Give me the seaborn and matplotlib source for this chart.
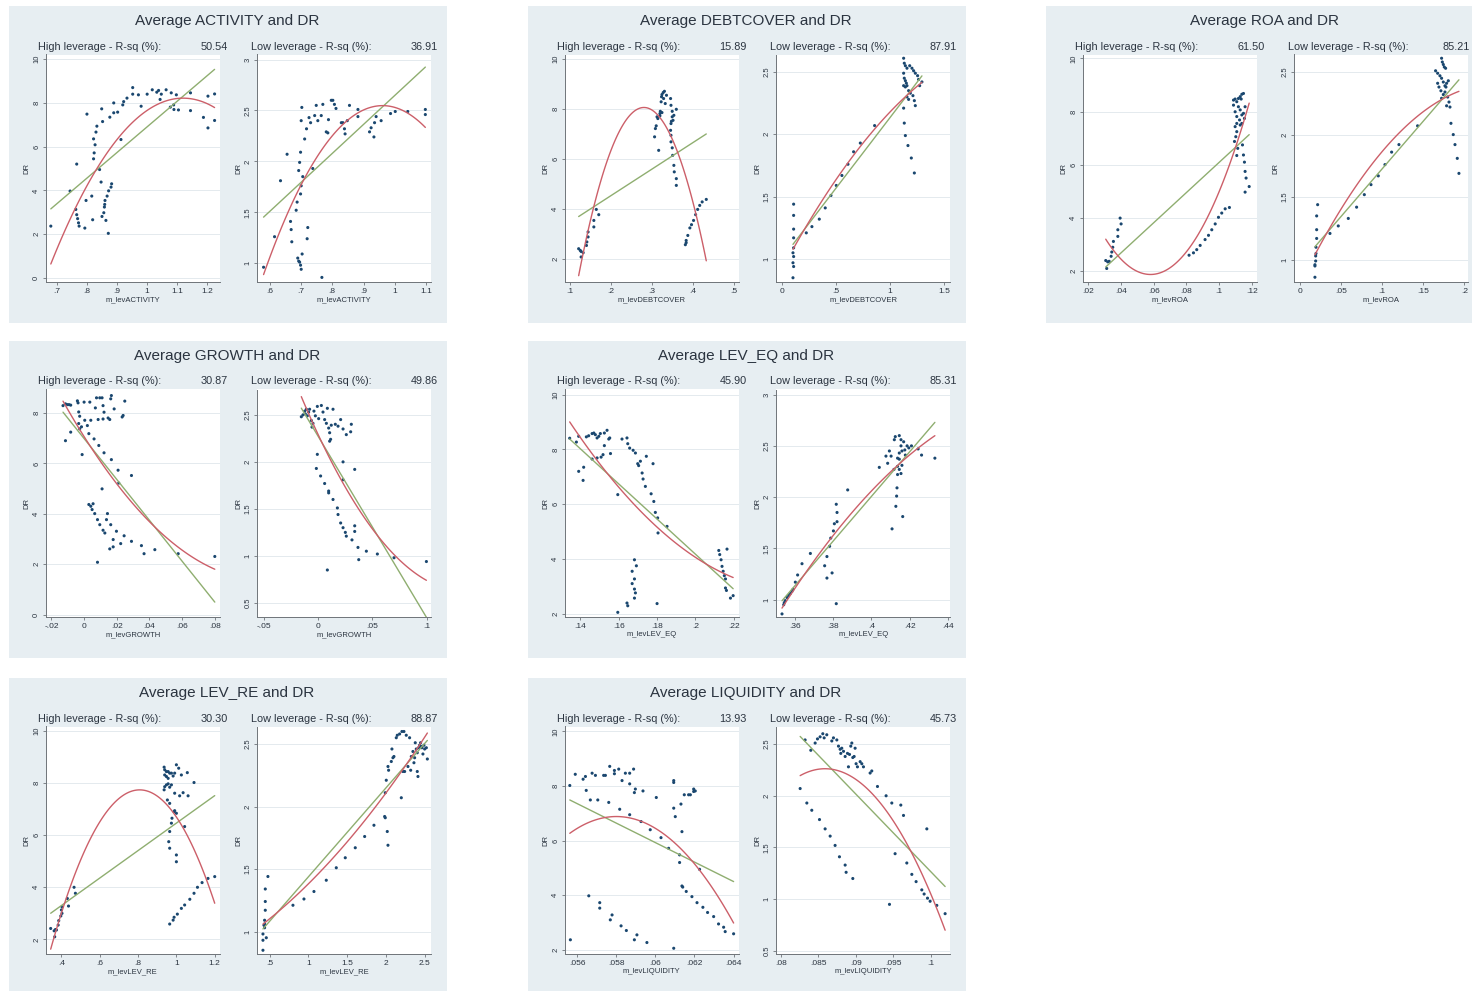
import matplotlib
matplotlib.use("Agg")
import matplotlib.pyplot as plt
import seaborn as sns
import pandas as pd
from matplotlib.patches import Rectangle

# ---------------------------------------------------------------- data
# Average ACTIVITY
activity_high_x = [0.680, 0.744, 0.766, 0.763, 0.766, 0.769, 0.772, 0.774, 0.793, 0.797, 0.816, 0.819,
                   0.800, 0.822, 0.824, 0.827, 0.822, 0.830, 0.833, 0.849, 0.852, 0.876, 0.889, 0.889,
                   0.902, 0.919, 0.922, 0.933, 0.952, 0.952, 0.971, 0.980, 1.000, 1.017, 1.032, 1.038,
                   1.043, 1.047, 1.063, 1.080, 1.097, 1.077, 1.088, 1.089, 1.104, 1.144, 1.144, 1.187,
                   1.202, 1.202, 1.224, 1.224, 0.842, 0.847, 0.850, 0.856, 0.858, 0.859, 0.860, 0.863,
                   0.867, 0.872, 0.880, 0.882, 0.871, 0.913]
activity_high_dr = [2.37, 3.97, 5.20, 3.13, 2.89, 2.71, 2.52, 2.37, 2.28, 3.54, 3.74, 2.66,
                    7.48, 5.44, 5.71, 6.08, 6.35, 6.66, 6.93, 7.72, 7.14, 7.34, 7.54, 7.99,
                    7.57, 7.90, 8.05, 8.21, 8.69, 8.39, 8.36, 7.84, 8.39, 8.59, 8.48, 8.56,
                    8.15, 8.39, 8.59, 8.45, 8.36, 7.80, 7.90, 7.69, 7.67, 8.45, 7.64, 7.33,
                    8.30, 6.85, 8.40, 7.19, 4.95, 4.38, 2.81, 2.98, 3.24, 3.36, 3.54, 2.63,
                    3.74, 3.98, 4.15, 4.30, 2.04, 6.32]
activity_low_x = [0.581, 0.616, 0.635, 0.656, 0.667, 0.669, 0.671, 0.685, 0.688, 0.690, 0.693, 0.696,
                  0.699, 0.701, 0.704, 0.699, 0.701, 0.693, 0.696, 0.699, 0.701, 0.703, 0.712, 0.718,
                  0.720, 0.722, 0.726, 0.731, 0.744, 0.749, 0.754, 0.765, 0.770, 0.781, 0.786, 0.788,
                  0.797, 0.802, 0.807, 0.812, 0.767, 0.738, 0.706, 0.829, 0.834, 0.839, 0.841, 0.848,
                  0.855, 0.882, 0.882, 0.919, 0.924, 0.933, 0.935, 0.940, 0.956, 0.986, 1.001, 1.041,
                  1.097, 1.097]
activity_low_dr = [0.96, 1.26, 1.81, 2.07, 1.41, 1.33, 1.21, 1.52, 1.60, 1.05, 1.02, 1.01,
                   0.98, 0.94, 1.09, 1.68, 1.76, 1.91, 1.99, 2.09, 2.40, 2.53, 2.22, 2.32,
                   1.24, 1.35, 2.43, 2.38, 2.45, 2.55, 2.40, 2.45, 2.56, 2.29, 2.28, 2.41,
                   2.60, 2.60, 2.56, 2.52, 0.86, 1.93, 1.85, 2.38, 2.38, 2.32, 2.27, 2.40,
                   2.55, 2.51, 2.44, 2.29, 2.33, 2.24, 2.38, 2.44, 2.40, 2.47, 2.49, 2.49,
                   2.51, 2.46]

# Average DEBTCOVER
debtcover_high_x = [0.122, 0.126, 0.128, 0.128, 0.133, 0.141, 0.142, 0.145, 0.145, 0.159, 0.159, 0.165,
                    0.171, 0.307, 0.309, 0.311, 0.313, 0.317, 0.320, 0.321, 0.323, 0.324, 0.325, 0.328,
                    0.329, 0.331, 0.333, 0.336, 0.325, 0.320, 0.315, 0.346, 0.347, 0.350, 0.350, 0.347,
                    0.348, 0.346, 0.347, 0.347, 0.350, 0.351, 0.354, 0.355, 0.360, 0.360, 0.360, 0.354,
                    0.352, 0.382, 0.384, 0.388, 0.393, 0.397, 0.402, 0.407, 0.412, 0.417, 0.423, 0.433,
                    0.384]
debtcover_high_dr = [2.40, 2.33, 2.29, 2.07, 2.24, 2.53, 2.67, 2.87, 3.07, 3.27, 3.53, 3.97,
                     3.76, 6.87, 7.20, 7.31, 7.67, 6.33, 7.80, 7.89, 8.27, 8.47, 8.56, 8.64,
                     8.40, 8.69, 8.20, 8.53, 7.84, 7.71, 7.60, 8.40, 8.13, 7.89, 7.67, 7.40,
                     7.49, 7.13, 6.93, 6.67, 6.43, 6.13, 5.73, 5.47, 5.20, 4.93, 7.97, 7.73,
                     7.53, 2.56, 2.73, 2.93, 3.23, 3.36, 3.53, 3.76, 3.97, 4.13, 4.27, 4.37,
                     2.64]
debtcover_low_x = [0.108, 0.108, 0.108, 0.108, 0.108, 0.102, 0.108, 0.102, 0.108, 0.102,
                   0.225, 0.277, 0.345, 0.400, 0.453, 0.502, 0.554, 0.610, 0.662, 0.724, 0.856,
                   1.124, 1.130, 1.140, 1.155, 1.180, 1.201, 1.216, 1.232, 1.253, 1.124, 1.130,
                   1.140, 1.149, 1.124, 1.140, 1.155, 1.170, 1.186, 1.210, 1.223, 1.232, 1.155,
                   1.170, 1.272, 1.293, 1.262, 1.124, 1.130, 1.140, 1.164, 1.195, 1.223]
debtcover_low_dr = [1.44, 1.35, 1.24, 1.17, 1.09, 1.05, 1.02, 0.97, 0.94, 0.85,
                    1.21, 1.26, 1.32, 1.41, 1.51, 1.59, 1.67, 1.76, 1.86, 1.93, 2.07,
                    2.61, 2.57, 2.55, 2.53, 2.55, 2.53, 2.51, 2.49, 2.47, 2.49, 2.45,
                    2.43, 2.41, 2.39, 2.38, 2.39, 2.35, 2.33, 2.31, 2.27, 2.23, 2.30,
                    2.28, 2.39, 2.42, 2.44, 2.21, 2.09, 1.99, 1.91, 1.81, 1.69]

# Average ROA
roa_high_x = [0.0306, 0.0318, 0.0312, 0.0327, 0.0339, 0.0343, 0.0349, 0.0353, 0.0380, 0.0380, 0.0400, 0.0394,
              0.0816, 0.0843, 0.0863, 0.0884, 0.0914, 0.0935, 0.0955, 0.0976, 0.0996, 0.1016, 0.1037, 0.1063,
              0.1088, 0.1098, 0.1108, 0.1118, 0.1129, 0.1139, 0.1149, 0.1135, 0.1088, 0.1098, 0.1108, 0.1118,
              0.1129, 0.1139, 0.1149, 0.1159, 0.1155, 0.1125, 0.1108, 0.1098, 0.1108, 0.1102, 0.1094, 0.1114,
              0.1108, 0.1149, 0.1143, 0.1155, 0.1159, 0.1165, 0.1184, 0.1159, 0.1139, 0.1129]
roa_high_dr = [2.38, 2.33, 2.08, 2.35, 2.54, 2.70, 2.88, 3.10, 3.29, 3.54, 3.76, 3.98,
               2.58, 2.67, 2.79, 2.95, 3.17, 3.33, 3.54, 3.76, 4.01, 4.17, 4.33, 4.38,
               8.43, 8.47, 8.37, 8.49, 8.56, 8.65, 8.68, 8.47, 8.24, 7.99, 7.81, 8.18,
               8.06, 7.87, 7.93, 8.18, 7.74, 7.68, 7.55, 7.43, 7.24, 7.05, 6.87, 6.61,
               6.34, 6.36, 6.74, 6.09, 5.74, 5.49, 5.17, 4.96, 7.55, 7.49]
roa_low_x = [0.0215, 0.0203, 0.0203, 0.0203, 0.0195, 0.0195, 0.0191, 0.0191, 0.0182, 0.0182, 0.0182,
             0.0365, 0.0466, 0.0588, 0.0689, 0.0783, 0.0864, 0.0953, 0.1034, 0.1115, 0.1204, 0.1431,
             0.1723, 0.1732, 0.1744, 0.1756, 0.1772, 0.1650, 0.1675, 0.1703, 0.1723, 0.1744, 0.1764,
             0.1784, 0.1805, 0.1675, 0.1691, 0.1715, 0.1744, 0.1723, 0.1764, 0.1797, 0.1813, 0.1784,
             0.1825, 0.1837, 0.1865, 0.1886, 0.1914, 0.1934, 0.1776]
roa_low_dr = [1.44, 1.35, 1.24, 1.17, 1.10, 1.05, 1.03, 0.99, 0.96, 0.95, 0.86,
              1.21, 1.27, 1.33, 1.42, 1.52, 1.60, 1.67, 1.76, 1.86, 1.92, 2.07,
              2.61, 2.58, 2.56, 2.54, 2.53, 2.51, 2.49, 2.47, 2.45, 2.42, 2.39,
              2.41, 2.43, 2.41, 2.38, 2.35, 2.32, 2.29, 2.34, 2.30, 2.26, 2.23,
              2.22, 2.09, 2.00, 1.92, 1.81, 1.69, 2.38]

# Average GROWTH
growth_high_x = [-0.0129, -0.0114, -0.0102, -0.0092, -0.0082, -0.0114, -0.0082, -0.0041, -0.0037, -0.0033,
                 -0.0027, -0.0033, -0.0027, -0.0016, -0.0012, 0.0000, 0.0004, 0.0020, 0.0029, 0.0035,
                 0.0041, 0.0061, 0.0069, 0.0076, 0.0086, 0.0090, 0.0096, 0.0110, 0.0116, 0.0116,
                 0.0122, 0.0122, 0.0147, 0.0157, 0.0163, 0.0167, 0.0167, 0.0184, 0.0208, 0.0212,
                 0.0233, 0.0239, 0.0249, 0.0290, 0.0110, 0.0029, 0.0041, 0.0055, 0.0049, 0.0065,
                 0.0082, 0.0096, 0.0116, 0.0127, 0.0143, 0.0137, 0.0163, 0.0198, 0.0245, 0.0178,
                 0.0157, 0.0178, 0.0224, 0.0290, 0.0351, 0.0367, 0.0433, 0.0576, 0.0800, 0.0082]
growth_high_dr = [8.29, 8.36, 8.33, 8.33, 8.31, 6.90, 7.24, 8.48, 8.40, 8.04,
                  7.87, 7.58, 7.37, 7.45, 6.35, 8.43, 7.71, 7.50, 7.18, 8.43,
                  7.71, 6.97, 8.20, 8.60, 7.74, 6.71, 8.60, 8.60, 8.29, 7.76,
                  8.03, 6.42, 7.80, 7.74, 8.56, 8.69, 6.15, 8.16, 5.73, 5.22,
                  7.84, 7.90, 8.47, 5.52, 4.99, 4.37, 4.30, 4.40, 4.17, 4.01,
                  3.77, 3.57, 3.35, 3.24, 4.01, 3.77, 3.57, 3.31, 3.13, 2.98,
                  2.61, 2.69, 2.82, 2.91, 2.74, 2.42, 2.58, 2.42, 2.31, 2.08]
growth_low_x = [-0.0153, -0.0138, -0.0122, -0.0107, -0.0116, -0.0098, -0.0086, -0.0077, -0.0061, -0.0046,
                -0.0055, -0.0037, -0.0024, -0.0006, 0.0006, 0.0031, 0.0046, 0.0061, 0.0077, 0.0086,
                0.0098, 0.0107, 0.0122, 0.0138, 0.0159, 0.0184, 0.0208, 0.0230, 0.0260, 0.0300,
                0.0306, 0.0116, 0.0107, -0.0006, -0.0015, 0.0024, 0.0061, 0.0098, 0.0098, 0.0138,
                0.0178, 0.0184, 0.0208, 0.0230, 0.0251, 0.0260, 0.0312, 0.0367, 0.0374, 0.0444,
                0.0545, 0.0698, 0.0995, 0.0086, 0.0337, 0.0230, 0.0230, 0.0337, 0.0337]
growth_low_dr = [2.48, 2.50, 2.54, 2.56, 2.51, 2.49, 2.53, 2.56, 2.44, 2.41,
                 2.37, 2.54, 2.49, 2.59, 2.46, 2.60, 2.53, 2.45, 2.41, 2.57,
                 2.36, 2.31, 2.39, 2.56, 2.40, 2.38, 2.45, 2.35, 2.29, 2.32,
                 2.40, 2.24, 2.22, 2.08, 1.93, 1.85, 1.77, 1.69, 1.67, 1.60,
                 1.51, 1.44, 1.35, 1.30, 1.25, 1.21, 1.17, 1.09, 0.96, 1.05,
                 1.02, 0.98, 0.94, 0.85, 1.92, 1.81, 2.00, 1.32, 1.26]

# Average LEV_EQ
lev_eq_high_x = [0.1344, 0.1379, 0.1391, 0.1431, 0.1443, 0.1461, 0.1470, 0.1478, 0.1487, 0.1496,
                 0.1504, 0.1525, 0.1539, 0.1525, 0.1518, 0.1508, 0.1487, 0.1461, 0.1548, 0.1557,
                 0.1553, 0.1391, 0.1417, 0.1414, 0.1617, 0.1643, 0.1595, 0.1647, 0.1657, 0.1675,
                 0.1687, 0.1699, 0.1704, 0.1713, 0.1722, 0.1727, 0.1739, 0.1744, 0.1769, 0.1779,
                 0.1783, 0.1791, 0.1803, 0.1805, 0.1852, 0.1682, 0.1692, 0.1670, 0.1682, 0.1670,
                 0.1682, 0.1687, 0.1682, 0.1643, 0.1647, 0.1595, 0.1800, 0.2122, 0.2127, 0.2165,
                 0.2134, 0.2139, 0.2145, 0.2151, 0.2157, 0.2157, 0.2162, 0.2183, 0.2197]
lev_eq_high_dr = [8.41, 8.27, 8.48, 8.46, 8.50, 8.58, 8.60, 8.54, 8.42, 8.48,
                  8.58, 8.60, 8.70, 8.14, 7.81, 7.72, 7.69, 7.65, 8.38, 7.85,
                  8.42, 7.20, 7.35, 6.87, 8.38, 8.42, 6.35, 8.21, 8.05, 7.97,
                  7.87, 7.48, 7.41, 7.57, 7.14, 6.92, 6.65, 7.75, 6.38, 7.48,
                  6.10, 5.70, 5.50, 4.95, 5.19, 3.97, 3.75, 3.55, 3.27, 3.10,
                  2.90, 2.76, 2.57, 2.39, 2.29, 2.05, 2.37, 4.31, 4.16, 4.36,
                  3.97, 3.73, 3.55, 3.39, 3.27, 2.94, 2.85, 2.57, 2.66]
lev_eq_low_x = [0.3530, 0.3539, 0.3542, 0.3547, 0.3556, 0.3565, 0.3574, 0.3582, 0.3588, 0.3600,
                0.3612, 0.3635, 0.3679, 0.3754, 0.3766, 0.3766, 0.3793, 0.3780, 0.3786, 0.3800,
                0.3805, 0.3815, 0.3819, 0.3819, 0.3815, 0.3875, 0.4041, 0.4076, 0.4085, 0.4094,
                0.4103, 0.4108, 0.4120, 0.4125, 0.4128, 0.4132, 0.4134, 0.4137, 0.4137, 0.4146,
                0.4146, 0.4137, 0.4146, 0.4146, 0.4155, 0.4155, 0.4160, 0.4164, 0.4169, 0.4175,
                0.4178, 0.4187, 0.4196, 0.4155, 0.4160, 0.4210, 0.4245, 0.4263, 0.4333, 0.4118]
lev_eq_low_dr = [0.86, 0.95, 0.97, 0.99, 1.02, 1.04, 1.06, 1.08, 1.10, 1.17,
                 1.24, 1.35, 1.45, 1.33, 1.42, 1.21, 1.26, 1.52, 1.60, 1.67,
                 1.74, 1.93, 1.85, 1.76, 0.96, 2.07, 2.29, 2.40, 2.33, 2.45,
                 2.40, 1.69, 2.56, 2.59, 1.91, 2.01, 2.09, 2.22, 2.30, 2.37,
                 2.27, 2.38, 2.43, 2.60, 2.56, 2.50, 2.45, 1.81, 2.54, 2.46,
                 2.41, 2.50, 2.48, 2.23, 2.31, 2.50, 2.47, 2.41, 2.38, 2.27]

# Average LEV_RE
lev_re_high_x = [0.344, 0.362, 0.369, 0.365, 0.374, 0.383, 0.386, 0.397, 0.400, 0.403, 0.403, 0.431,
                 0.437, 0.466, 0.473, 0.936, 0.939, 0.948, 0.957, 0.965, 0.939, 0.948, 0.957, 0.974,
                 0.983, 1.000, 1.012, 0.991, 1.057, 1.026, 0.936, 0.939, 0.948, 0.957, 0.965, 0.974,
                 0.953, 0.965, 0.988, 0.991, 1.000, 0.977, 0.974, 0.965, 0.960, 0.965, 1.000, 1.000,
                 1.043, 1.017, 1.035, 1.061, 1.092, 0.991, 0.965, 0.983, 0.988, 1.005, 1.026, 1.043,
                 1.070, 1.092, 1.110, 1.134, 1.165, 1.200]
lev_re_high_dr = [2.42, 2.33, 2.38, 2.10, 2.36, 2.55, 2.72, 2.90, 3.13, 3.00, 3.25, 3.57,
                  3.28, 4.00, 3.77, 8.61, 8.51, 8.44, 8.44, 8.38, 8.31, 8.25, 8.18, 8.38,
                  8.27, 8.70, 8.57, 8.38, 8.40, 8.31, 7.74, 7.86, 7.93, 7.97, 7.84, 7.93,
                  7.35, 7.22, 6.90, 6.94, 6.84, 6.65, 6.46, 6.14, 5.75, 5.50, 5.24, 4.98,
                  6.33, 7.51, 7.63, 7.51, 8.02, 7.61, 2.59, 2.74, 2.85, 2.97, 3.19, 3.32,
                  3.54, 3.77, 4.00, 4.18, 4.34, 4.41]
lev_re_low_x = [0.478, 0.444, 0.444, 0.444, 0.435, 0.435, 0.435, 0.414, 0.457, 0.414, 0.414, 0.427,
                0.801, 0.943, 1.072, 1.231, 1.360, 1.476, 1.605, 1.726, 1.846, 1.984, 1.992, 2.018,
                2.027, 1.992, 2.005, 2.027, 2.035, 2.070, 2.078, 2.091, 2.104, 2.134, 2.147, 2.177,
                2.207, 2.233, 2.263, 2.306, 2.199, 2.220, 2.242, 2.285, 2.320, 2.328, 2.349, 2.362,
                2.371, 2.392, 2.405, 2.414, 2.422, 2.435, 2.448, 2.457, 2.465, 2.478, 2.491, 2.500,
                2.522, 2.535, 2.379, 2.405]
lev_re_low_dr = [1.44, 1.34, 1.24, 1.17, 1.09, 1.06, 1.03, 0.98, 0.95, 0.93, 0.85, 1.05,
                 1.21, 1.26, 1.32, 1.41, 1.51, 1.59, 1.67, 1.76, 1.85, 1.92, 1.91, 1.80,
                 1.69, 2.11, 2.21, 2.32, 2.29, 2.36, 2.46, 2.39, 2.40, 2.55, 2.57, 2.58,
                 2.60, 2.60, 2.57, 2.55, 2.07, 2.28, 2.28, 2.32, 2.29, 2.40, 2.44, 2.35,
                 2.39, 2.46, 2.43, 2.24, 2.47, 2.49, 2.51, 2.48, 2.47, 2.42, 2.49, 2.46,
                 2.47, 2.38, 2.51, 2.28]

# Average LIQUIDITY
liquidity_high_x = [0.05563, 0.05566, 0.05591, 0.05631, 0.05643, 0.05647, 0.05668, 0.05677, 0.05694, 0.05660,
                    0.05706, 0.05716, 0.05716, 0.05736, 0.05745, 0.05762, 0.05767, 0.05770, 0.05779, 0.05791,
                    0.05791, 0.05813, 0.05818, 0.05825, 0.05830, 0.05847, 0.05852, 0.05869, 0.05869, 0.05869,
                    0.05889, 0.05893, 0.05898, 0.05893, 0.05906, 0.05927, 0.05937, 0.05957, 0.05974, 0.06005,
                    0.06029, 0.06068, 0.06094, 0.06094, 0.06094, 0.06102, 0.06094, 0.06124, 0.06124, 0.06131,
                    0.06136, 0.06136, 0.06140, 0.06148, 0.06158, 0.06170, 0.06179, 0.06187, 0.06196, 0.06196,
                    0.06204, 0.06213, 0.06226, 0.06243, 0.06267, 0.06298, 0.06323, 0.06349, 0.06357, 0.06400]
liquidity_high_dr = [8.02, 2.37, 8.43, 8.25, 8.35, 7.84, 7.49, 8.47, 8.39, 3.98,
                     7.49, 3.73, 3.53, 8.39, 8.39, 7.40, 8.72, 3.10, 3.28, 8.57,
                     8.45, 8.62, 7.15, 2.88, 8.20, 8.47, 2.71, 8.47, 8.08, 6.95,
                     8.62, 7.76, 7.89, 2.37, 2.55, 6.70, 7.82, 2.27, 6.40, 7.58,
                     6.11, 5.72, 8.20, 8.13, 7.19, 6.88, 2.06, 5.48, 5.20, 7.34,
                     6.33, 4.34, 4.30, 7.68, 4.14, 7.68, 7.68, 3.95, 7.80, 7.89,
                     7.82, 3.73, 4.95, 3.56, 3.37, 3.22, 2.95, 2.83, 2.67, 2.59]
liquidity_low_x = [0.08258, 0.08324, 0.08347, 0.08400, 0.08413, 0.08458, 0.08489, 0.08516, 0.08524, 0.08560,
                   0.08578, 0.08591, 0.08613, 0.08658, 0.08680, 0.08702, 0.08724, 0.08747, 0.08769, 0.08782,
                   0.08791, 0.08800, 0.08813, 0.08836, 0.08858, 0.08858, 0.08871, 0.08889, 0.08902, 0.08916,
                   0.08933, 0.08947, 0.08960, 0.08960, 0.08978, 0.08991, 0.09004, 0.09022, 0.09058, 0.09080,
                   0.09102, 0.09191, 0.09213, 0.09289, 0.09404, 0.09449, 0.09480, 0.09524, 0.09600, 0.09636,
                   0.09680, 0.09747, 0.09804, 0.09880, 0.09911, 0.09947, 0.09956, 0.09991, 0.10080, 0.10191]
liquidity_low_dr = [2.07, 2.54, 1.93, 2.44, 1.86, 2.51, 2.55, 1.77, 2.57, 2.60,
                    2.56, 1.68, 2.59, 1.61, 2.53, 2.56, 1.52, 2.54, 2.48, 1.41,
                    2.45, 2.41, 2.46, 2.43, 1.33, 2.38, 1.26, 2.41, 2.28, 2.40,
                    2.48, 2.51, 2.37, 1.20, 2.38, 2.46, 2.31, 2.28, 2.33, 2.31,
                    2.28, 2.22, 2.24, 2.09, 2.00, 0.95, 1.93, 1.44, 1.91, 1.81,
                    1.35, 1.24, 1.17, 1.09, 1.05, 1.68, 1.01, 0.98, 0.94, 0.86]

# R-squared values printed above each plot (high, low)
variables = ["ACTIVITY", "DEBTCOVER", "ROA", "GROWTH", "LEV_EQ", "LEV_RE", "LIQUIDITY"]
rsq_high = ["50.54", "15.89", "61.50", "30.87", "45.90", "30.30", "13.93"]
rsq_low = ["36.91", "87.91", "85.21", "49.86", "85.31", "88.87", "45.73"]

high_x = [activity_high_x, debtcover_high_x, roa_high_x, growth_high_x, lev_eq_high_x, lev_re_high_x, liquidity_high_x]
high_dr = [activity_high_dr, debtcover_high_dr, roa_high_dr, growth_high_dr, lev_eq_high_dr, lev_re_high_dr, liquidity_high_dr]
low_x = [activity_low_x, debtcover_low_x, roa_low_x, growth_low_x, lev_eq_low_x, lev_re_low_x, liquidity_low_x]
low_dr = [activity_low_dr, debtcover_low_dr, roa_low_dr, growth_low_dr, lev_eq_low_dr, lev_re_low_dr, liquidity_low_dr]

# axis ticks, tick labels and ranges (high plot, low plot)
high_xticks = [[0.7, 0.8, 0.9, 1.0, 1.1, 1.2], [0.1, 0.2, 0.3, 0.4, 0.5], [0.02, 0.04, 0.06, 0.08, 0.10, 0.12],
               [-0.02, 0.0, 0.02, 0.04, 0.06, 0.08], [0.14, 0.16, 0.18, 0.20, 0.22], [0.4, 0.6, 0.8, 1.0, 1.2],
               [0.056, 0.058, 0.060, 0.062, 0.064]]
high_xlabels = [[".7", ".8", ".9", "1", "1.1", "1.2"], [".1", ".2", ".3", ".4", ".5"],
                [".02", ".04", ".06", ".08", ".1", ".12"], ["-.02", "0", ".02", ".04", ".06", ".08"],
                [".14", ".16", ".18", ".2", ".22"], [".4", ".6", ".8", "1", "1.2"],
                [".056", ".058", ".06", ".062", ".064"]]
low_xticks = [[0.6, 0.7, 0.8, 0.9, 1.0, 1.1], [0.0, 0.5, 1.0, 1.5], [0.0, 0.05, 0.10, 0.15, 0.20],
              [-0.05, 0.0, 0.05, 0.10], [0.36, 0.38, 0.40, 0.42, 0.44], [0.5, 1.0, 1.5, 2.0, 2.5],
              [0.080, 0.085, 0.090, 0.095, 0.100]]
low_xlabels = [[".6", ".7", ".8", ".9", "1", "1.1"], ["0", ".5", "1", "1.5"], ["0", ".05", ".1", ".15", ".2"],
               ["-.05", "0", ".05", ".1"], [".36", ".38", ".4", ".42", ".44"], [".5", "1", "1.5", "2", "2.5"],
               [".08", ".085", ".09", ".095", ".1"]]
high_yticks = [[0, 2, 4, 6, 8, 10], [2, 4, 6, 8, 10], [2, 4, 6, 8, 10], [0, 2, 4, 6, 8],
               [2, 4, 6, 8, 10], [2, 4, 6, 8, 10], [2, 4, 6, 8, 10]]
low_yticks = [[1, 1.5, 2, 2.5, 3], [1, 1.5, 2, 2.5], [1, 1.5, 2, 2.5], [0.5, 1, 1.5, 2, 2.5],
              [1, 1.5, 2, 2.5, 3], [1, 1.5, 2, 2.5], [0.5, 1, 1.5, 2, 2.5]]
high_xlim = [(0.663, 1.241), (0.088, 0.512), (0.0165, 0.123), (-0.0235, 0.083), (0.1318, 0.2226),
             (0.318, 1.226), (0.05537, 0.06426)]
high_ylim = [(-0.18, 10.2), (1.07, 10.16), (1.57, 10.15), (-0.09, 8.93), (1.88, 10.19), (1.44, 10.17), (1.85, 10.18)]
low_xlim = [(0.561, 1.116), (-0.052, 1.555), (-0.0069, 0.2048), (-0.0557, 0.104), (0.350, 0.4414),
            (0.341, 2.586), (0.0794, 0.1026)]
low_ylim = [(0.815, 3.05), (0.816, 2.64), (0.822, 2.64), (0.35, 2.77), (0.83, 3.05), (0.82, 2.64), (0.47, 2.67)]

# ---------------------------------------------------------------- style
sns.set_theme(style="white")
plt.rcParams["font.family"] = ["Liberation Sans", "DejaVu Sans"]

PANEL_BG = "#e7eef2"
TEXT = "#2b3440"
POINT = "#1a476f"
LIN = "#8fae70"
QUAD = "#cc5f69"
GRID = "#e4eaee"
AXIS = "#6f7479"

W, H = 1472, 991
fig = plt.figure(figsize=(W / 100, H / 100), dpi=100)
fig.patch.set_facecolor("white")


def frac(x, y, w, h):
    return [x / W, 1 - (y + h) / H, w / W, h / H]


# panel origins (left, top) in pixels
origins = [(8, 5), (527, 5), (1045, 5), (8, 340), (527, 340), (8, 677), (527, 677)]


def draw_plot(ax, x, y, xticks, xlabels, yticks, xlim, ylim, var):
    df = pd.DataFrame({"x": x, "DR": y})
    for t in yticks:
        ax.axhline(t, color=GRID, lw=0.7, zorder=0)
    sns.scatterplot(data=df, x="x", y="DR", ax=ax, s=5, color=POINT, edgecolor="none", marker="o", zorder=3)
    sns.regplot(data=df, x="x", y="DR", ax=ax, order=1, ci=None, scatter=False,
                line_kws=dict(color=LIN, lw=1.0, zorder=4))
    sns.regplot(data=df, x="x", y="DR", ax=ax, order=2, ci=None, scatter=False,
                line_kws=dict(color=QUAD, lw=1.0, zorder=5))
    ax.set_xlim(*xlim)
    ax.set_ylim(*ylim)
    ax.set_xticks(xticks)
    ax.set_xticklabels(xlabels, fontsize=6, color=TEXT)
    ax.set_yticks(yticks)
    ax.set_yticklabels([f"{t:g}" for t in yticks], fontsize=5.5, color=TEXT, rotation=90, va="center")
    ax.set_xlabel(f"m_lev{var}", fontsize=5.5, color=TEXT, labelpad=1)
    ax.set_ylabel("DR", fontsize=5.5, color=TEXT, labelpad=2)
    ax.set_facecolor("white")
    for s in ["top", "right"]:
        ax.spines[s].set_visible(False)
    for s in ["left", "bottom"]:
        ax.spines[s].set_color(AXIS)
        ax.spines[s].set_linewidth(0.7)
    ax.tick_params(axis="both", which="both", length=2.5, width=0.6, color=AXIS, pad=1.5,
                   left=True, bottom=True)


for i, var in enumerate(variables):
    ox, oy = origins[i]
    fig.patches.append(Rectangle((ox + 1, H - (oy + 318)), 438, 317, transform=None,
                                 facecolor=PANEL_BG, edgecolor="none", zorder=-10))
    fig.text((ox + 219) / W, 1 - (oy + 16) / H, f"Average {var} and DR", ha="center", va="center",
             fontsize=11, color=TEXT)
    fig.text((ox + 30) / W, 1 - (oy + 41.5) / H, "High leverage - R-sq (%):", ha="left", va="center",
             fontsize=7.8, color=TEXT)
    fig.text((ox + 220) / W, 1 - (oy + 41.5) / H, rsq_high[i], ha="right", va="center",
             fontsize=7.8, color=TEXT)
    fig.text((ox + 243) / W, 1 - (oy + 41.5) / H, "Low leverage - R-sq (%):", ha="left", va="center",
             fontsize=7.8, color=TEXT)
    # keep the right-hand value inside the canvas for the rightmost panel
    right_edge = min(ox + 430, W - 2)
    fig.text(right_edge / W, 1 - (oy + 41.5) / H, rsq_low[i], ha="right", va="center",
             fontsize=7.8, color=TEXT)

    ax_h = fig.add_axes(frac(ox + 37.7, oy + 49.5, 174, 227.5))
    draw_plot(ax_h, high_x[i], high_dr[i], high_xticks[i], high_xlabels[i], high_yticks[i],
              high_xlim[i], high_ylim[i], var)
    ax_l = fig.add_axes(frac(ox + 249.3, oy + 49.5, 174, 227.5))
    draw_plot(ax_l, low_x[i], low_dr[i], low_xticks[i], low_xlabels[i], low_yticks[i],
              low_xlim[i], low_ylim[i], var)

fig.savefig("out.png", dpi=100, facecolor="white")
